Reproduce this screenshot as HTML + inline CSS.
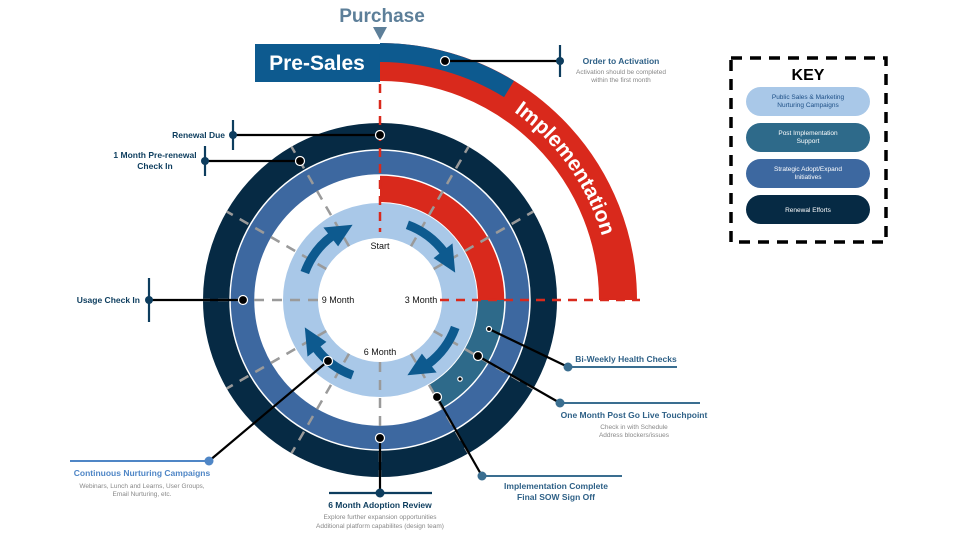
<!DOCTYPE html>
<html><head><meta charset="utf-8"><style>
html,body{margin:0;padding:0;background:#fff;}
svg{display:block;font-family:"Liberation Sans",sans-serif;}
</style></head><body>
<svg width="960" height="540" viewBox="0 0 960 540" xmlns="http://www.w3.org/2000/svg">
<rect width="960" height="540" fill="#fff"/>
<!-- Purchase -->
<text x="382" y="22" text-anchor="middle" font-size="19" font-weight="bold" fill="#5d7f99">Purchase</text>
<polygon points="373,27 387,27 380,40" fill="#5d7f99"/>
<rect x="255" y="44" width="125" height="38" fill="#0d5a8f"/>
<text x="317" y="70" text-anchor="middle" font-size="21" font-weight="bold" fill="#fff">Pre-Sales</text>

<!-- outer implementation arc -->
<path d="M380 62 A238 238 0 0 1 618 300" fill="none" stroke="#d9291c" stroke-width="38"/>
<path d="M380 52.5 A247.5 247.5 0 0 1 509 89" fill="none" stroke="#0d5a8f" stroke-width="19"/>
<path id="ip" d="M488.4 96 A231 231 0 0 1 611 300" fill="none"/>
<text font-size="21" font-weight="bold" fill="#fff"><textPath href="#ip" startOffset="30">Implementation</textPath></text>

<!-- rings -->
<circle cx="380" cy="300" r="163.5" fill="none" stroke="#062a44" stroke-width="27"/>
<circle cx="380" cy="300" r="137.5" fill="none" stroke="#3d68a0" stroke-width="25"/>
<circle cx="380" cy="300" r="150" fill="none" stroke="#fff" stroke-width="1.5"/>
<path d="M380 188.5 A111.5 111.5 0 0 1 491.5 300" fill="none" stroke="#d9291c" stroke-width="27"/>
<path d="M491.5 300 A111.5 111.5 0 0 1 435.75 396.6" fill="none" stroke="#2e6a8a" stroke-width="27"/>
<circle cx="380" cy="300" r="125" fill="none" stroke="#fff" stroke-width="1.5"/>
<circle cx="380" cy="300" r="79.5" fill="none" stroke="#a9c8e8" stroke-width="35"/>

<!-- gray radial dashes -->
<g stroke="#9a9a9a" stroke-width="2.5" stroke-dasharray="10 8" fill="none">
<line x1="433.7" y1="269" x2="533.3" y2="211.5"/>
<line x1="411" y1="246.3" x2="468.5" y2="146.7"/>
<line x1="349" y1="246.3" x2="291.5" y2="146.7"/>
<line x1="326.3" y1="269" x2="226.7" y2="211.5"/>
<line x1="318" y1="300" x2="203" y2="300"/>
<line x1="326.3" y1="331" x2="226.7" y2="388.5"/>
<line x1="349" y1="353.7" x2="291.5" y2="453.3"/>
<line x1="380" y1="362" x2="380" y2="477"/>
<line x1="411" y1="353.7" x2="468.5" y2="453.3"/>
<line x1="433.7" y1="331" x2="533.3" y2="388.5"/>
</g>
<g stroke="#d9291c" stroke-width="2.5" stroke-dasharray="9 7" fill="none">
<line x1="380" y1="84" x2="380" y2="232"/>
<line x1="440" y1="300" x2="640" y2="300"/>
</g>

<!-- arrows -->
<g fill="none" stroke="#0d5a8f" stroke-width="9">
<path d="M304.8 272.6 A80 80 0 0 1 332 236"/>
<path d="M407.4 224.8 A80 80 0 0 1 444 252"/>
<path d="M455.2 327.4 A80 80 0 0 1 428 364"/>
<path d="M352.6 375.2 A80 80 0 0 1 316 348"/>
</g>
<g fill="#0d5a8f">
<polygon points="338.1,246.4 323.4,227.5 352.6,224.8"/>
<polygon points="433.6,258.1 452.5,243.4 455.2,272.6"/>
<polygon points="421.9,353.6 436.6,372.5 407.4,375.2"/>
<polygon points="326.4,341.9 307.5,356.6 304.8,327.4"/>
</g>

<g font-size="9" fill="#111" text-anchor="middle">
<text x="380" y="249">Start</text>
<text x="338" y="303">9 Month</text>
<text x="421" y="303">3 Month</text>
<text x="380" y="355">6 Month</text>
</g>

<!-- callouts -->
<g stroke="#000" stroke-width="2.2" fill="none">
<line x1="445" y1="61" x2="560" y2="61"/>
<line x1="380" y1="135" x2="233" y2="135"/>
<line x1="300" y1="161" x2="205" y2="161"/>
<line x1="243" y1="300" x2="149" y2="300"/>
<line x1="489" y1="329" x2="568" y2="367"/>
<line x1="478" y1="356" x2="560" y2="403"/>
<line x1="437" y1="397" x2="482" y2="476"/>
<line x1="380" y1="438" x2="380" y2="493"/>
<line x1="328" y1="361" x2="209" y2="461"/>
</g>
<g stroke="#0d3d5e" stroke-width="2.2">
<line x1="560" y1="45" x2="560" y2="77"/>
<line x1="233" y1="120" x2="233" y2="150"/>
<line x1="205" y1="146" x2="205" y2="176"/>
<line x1="149" y1="278" x2="149" y2="322"/>
<line x1="329" y1="493" x2="432" y2="493"/>
</g>
<g stroke="#3a6e90" stroke-width="2">
<line x1="568" y1="367" x2="677" y2="367"/>
<line x1="560" y1="403" x2="700" y2="403"/>
<line x1="482" y1="476" x2="622" y2="476"/>
</g>
<line x1="70" y1="461" x2="209" y2="461" stroke="#4f86c6" stroke-width="2"/>
<g fill="#0d3d5e">
<circle cx="560" cy="61" r="4"/><circle cx="233" cy="135" r="4"/><circle cx="205" cy="161" r="4"/><circle cx="149" cy="300" r="4"/><circle cx="380" cy="493" r="4.5"/>
</g>
<g fill="#3a6e90"><circle cx="568" cy="367" r="4.5"/><circle cx="560" cy="403" r="4.5"/><circle cx="482" cy="476" r="4.5"/></g>
<circle cx="209" cy="461" r="4.5" fill="#4f86c6"/>
<g fill="#000" stroke="#fff" stroke-width="1.2">
<circle cx="445" cy="61" r="4.5"/><circle cx="380" cy="135" r="4.5"/><circle cx="300" cy="161" r="4.5"/><circle cx="243" cy="300" r="4.5"/>
<circle cx="489" cy="329" r="2.5"/><circle cx="478" cy="356" r="4.5"/><circle cx="460" cy="379" r="2.2"/><circle cx="437" cy="397" r="4.5"/>
<circle cx="380" cy="438" r="4.5"/><circle cx="328" cy="361" r="4.5"/>
</g>

<!-- labels -->
<g font-size="8.5" font-weight="bold" fill="#0d3d5e">
<text x="225" y="138" text-anchor="end">Renewal Due</text>
<text x="155" y="158" text-anchor="middle">1 Month Pre-renewal</text>
<text x="155" y="169" text-anchor="middle">Check In</text>
<text x="140" y="303" text-anchor="end">Usage Check In</text>
<text x="380" y="508" text-anchor="middle">6 Month Adoption Review</text>
</g>
<g font-size="8.5" font-weight="bold" fill="#2f6187" text-anchor="middle">
<text x="621" y="64">Order to Activation</text>
<text x="626" y="362">Bi-Weekly Health Checks</text>
<text x="634" y="418">One Month Post Go Live Touchpoint</text>
<text x="556" y="489">Implementation Complete</text>
<text x="556" y="500">Final SOW Sign Off</text>
</g>
<text x="142" y="476" text-anchor="middle" font-size="8.5" font-weight="bold" fill="#4f86c6">Continuous Nurturing Campaigns</text>
<g font-size="6.5" fill="#888" text-anchor="middle">
<text x="621" y="74">Activation should be completed</text>
<text x="621" y="82">within the first month</text>
<text x="634" y="429">Check in with Schedule</text>
<text x="634" y="437">Address blockers/issues</text>
<text x="142" y="488">Webinars, Lunch and Learns, User Groups,</text>
<text x="142" y="496">Email Nurturing, etc.</text>
<text x="380" y="519">Explore further expansion opportunities</text>
<text x="380" y="528">Additional platform capabilites (design team)</text>
</g>

<!-- key -->
<rect x="731" y="58" width="155" height="184" fill="none" stroke="#000" stroke-width="3.5" stroke-dasharray="11 8"/>
<text x="808" y="80" text-anchor="middle" font-size="16" font-weight="bold" fill="#000">KEY</text>
<rect x="746" y="87" width="124" height="29" rx="14.5" fill="#a9c8e8"/>
<rect x="746" y="123" width="124" height="29" rx="14.5" fill="#2e6a8a"/>
<rect x="746" y="159" width="124" height="29" rx="14.5" fill="#3d68a0"/>
<rect x="746" y="195" width="124" height="29" rx="14.5" fill="#062a44"/>
<g font-size="6.5" text-anchor="middle">
<text x="808" y="99" fill="#1d4f86">Public Sales &amp; Marketing</text>
<text x="808" y="107" fill="#1d4f86">Nurturing Campaigns</text>
<text x="808" y="135" fill="#fff">Post Implementation</text>
<text x="808" y="143" fill="#fff">Support</text>
<text x="808" y="171" fill="#fff">Strategic Adopt/Expand</text>
<text x="808" y="179" fill="#fff">Initiatives</text>
<text x="808" y="212" fill="#fff">Renewal Efforts</text>
</g>
</svg>
</body></html>
